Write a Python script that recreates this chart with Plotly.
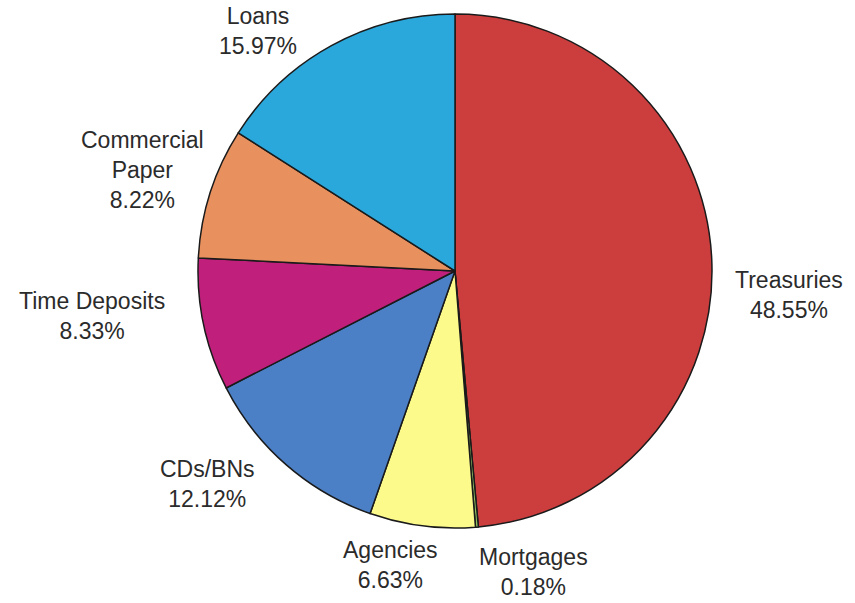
import plotly.graph_objects as go

W, H = 855, 603

categories = ["Treasuries", "Mortgages", "Agencies", "CDs/BNs", "Time Deposits", "Commercial Paper", "Loans"]
values = [48.55, 0.18, 6.63, 12.12, 8.33, 8.22, 15.97]
label_names = ["Treasuries", "Mortgages", "Agencies", "CDs/BNs", "Time Deposits", "Commercial<br>Paper", "Loans"]
colors = ["#cc3d3d", "#8fbf5f", "#fbfa8a", "#4b80c6", "#c01f7c", "#e8915f", "#2aa8dc"]
# label centre positions in pixels (x, y of text block centre)
label_pos = [(789, 295), (533, 572), (390, 565), (207, 484), (92, 316), (142, 170), (258, 31)]

fig = go.Figure(go.Pie(
    labels=categories,
    values=values,
    sort=False,
    direction="clockwise",
    rotation=0,
    marker=dict(colors=colors, line=dict(color="#1a1a1a", width=1.5)),
    textinfo="none",
    hoverinfo="label+percent",
    domain=dict(x=[197 / W, 713 / W], y=[1 - 528 / H, 1 - 14 / H]),
    showlegend=False,
))

for name, v, (px, py) in zip(label_names, values, label_pos):
    fig.add_annotation(
        x=px / W, y=1 - py / H, xref="paper", yref="paper",
        text=f"{name}<br>{v:.2f}%",
        showarrow=False, xanchor="center", yanchor="middle",
        font=dict(family="Liberation Sans, Arial", size=23, color="#2b2b2b"),
        align="center",
    )

fig.update_layout(
    width=W, height=H,
    margin=dict(l=0, r=0, t=0, b=0),
    paper_bgcolor="white", plot_bgcolor="white",
)

fig.write_html("out.html")
